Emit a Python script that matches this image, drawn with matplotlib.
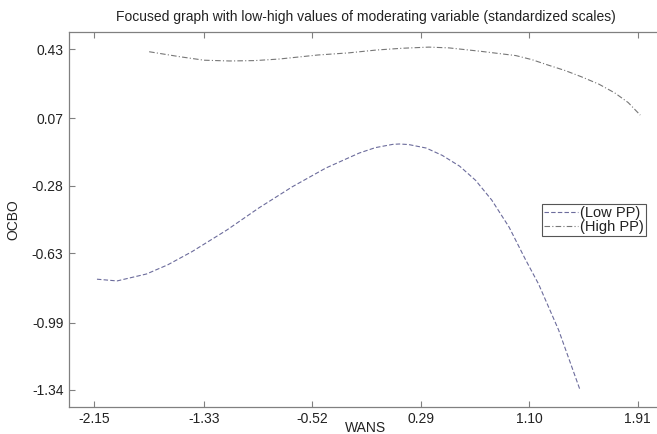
import numpy as np
import matplotlib
matplotlib.use('Agg')
import matplotlib.pyplot as plt

plt.rcParams['font.family'] = ['Liberation Sans', 'DejaVu Sans']

# values
low_x = [-2.13, -1.98, -1.76, -1.60, -1.42, -1.16, -0.92, -0.67, -0.42, -0.17,
         -0.05, 0.08, 0.13, 0.20, 0.33, 0.45, 0.58, 0.70, 0.82, 0.95,
         1.07, 1.17, 1.32, 1.48]
low_y = [-0.765, -0.774, -0.738, -0.690, -0.622, -0.510, -0.395, -0.285, -0.188, -0.110,
         -0.082, -0.065, -0.063, -0.066, -0.084, -0.122, -0.178, -0.252, -0.354, -0.495,
         -0.660, -0.790, -1.029, -1.340]
high_x = [-1.74, -1.51, -1.33, -1.14, -0.95, -0.77, -0.48, -0.25, -0.04, 0.15,
          0.35, 0.50, 0.74, 1.00, 1.12, 1.24, 1.37, 1.49, 1.62, 1.74,
          1.84, 1.93]
high_y = [0.416, 0.390, 0.372, 0.368, 0.370, 0.378, 0.399, 0.410, 0.425, 0.434,
          0.440, 0.436, 0.418, 0.396, 0.375, 0.347, 0.318, 0.286, 0.248, 0.202,
          0.152, 0.087]
xticks = [-2.15, -1.33, -0.52, 0.29, 1.10, 1.91]
yticks = [0.43, 0.07, -0.28, -0.63, -0.99, -1.34]
labels = ['(Low PP)', '(High PP)']

fig = plt.figure(figsize=(6.57, 4.34), dpi=100)
ax = fig.add_axes([69 / 657, 1 - 406.7 / 434, (663 - 69) / 657, (406.7 - 31.7) / 434])

ax.plot(low_x, low_y, linestyle=(0, (4, 2)), color='#6c6c9c', lw=0.8, label=labels[0])
ax.plot(high_x, high_y, linestyle=(0, (5, 2, 1, 2)), color='#777777', lw=0.8, label=labels[1])

ax.set_xlim(-2.339, 2.10)
ax.set_ylim(-1.427, 0.52)
ax.set_xticks(xticks)
ax.set_xticklabels(['%.2f' % v for v in xticks])
ax.set_yticks(yticks)
ax.set_yticklabels(['%.2f' % v for v in yticks])
ax.tick_params(direction='in', top=True, right=True, length=4, width=0.8,
               colors='#808080', labelcolor='#222222', labelsize=10, pad=4)
for s in ax.spines.values():
    s.set_color('#808080')
    s.set_linewidth(0.9)

ax.set_title('Focused graph with low-high values of moderating variable (standardized scales)',
             fontsize=10, color='#222222', pad=8)
ax.set_xlabel('WANS', fontsize=10, color='#222222')
ax.xaxis.set_label_coords(0.5, -0.037, transform=ax.transAxes)
ax.xaxis.label.set_va('top')
ax.set_ylabel('OCBO', fontsize=10, color='#222222', labelpad=8)

leg = ax.legend(loc='upper left', bbox_to_anchor=(542 / 657, 1 - 204 / 434),
                bbox_transform=fig.transFigure, borderaxespad=0, fontsize=10.5,
                handlelength=2.3, handletextpad=0.15, borderpad=0.15, labelspacing=0.0,
                fancybox=False, framealpha=1, edgecolor='#555555')
leg.get_frame().set_linewidth(0.8)
for t in leg.get_texts():
    t.set_color('#222222')

fig.savefig('out.png', dpi=100)
